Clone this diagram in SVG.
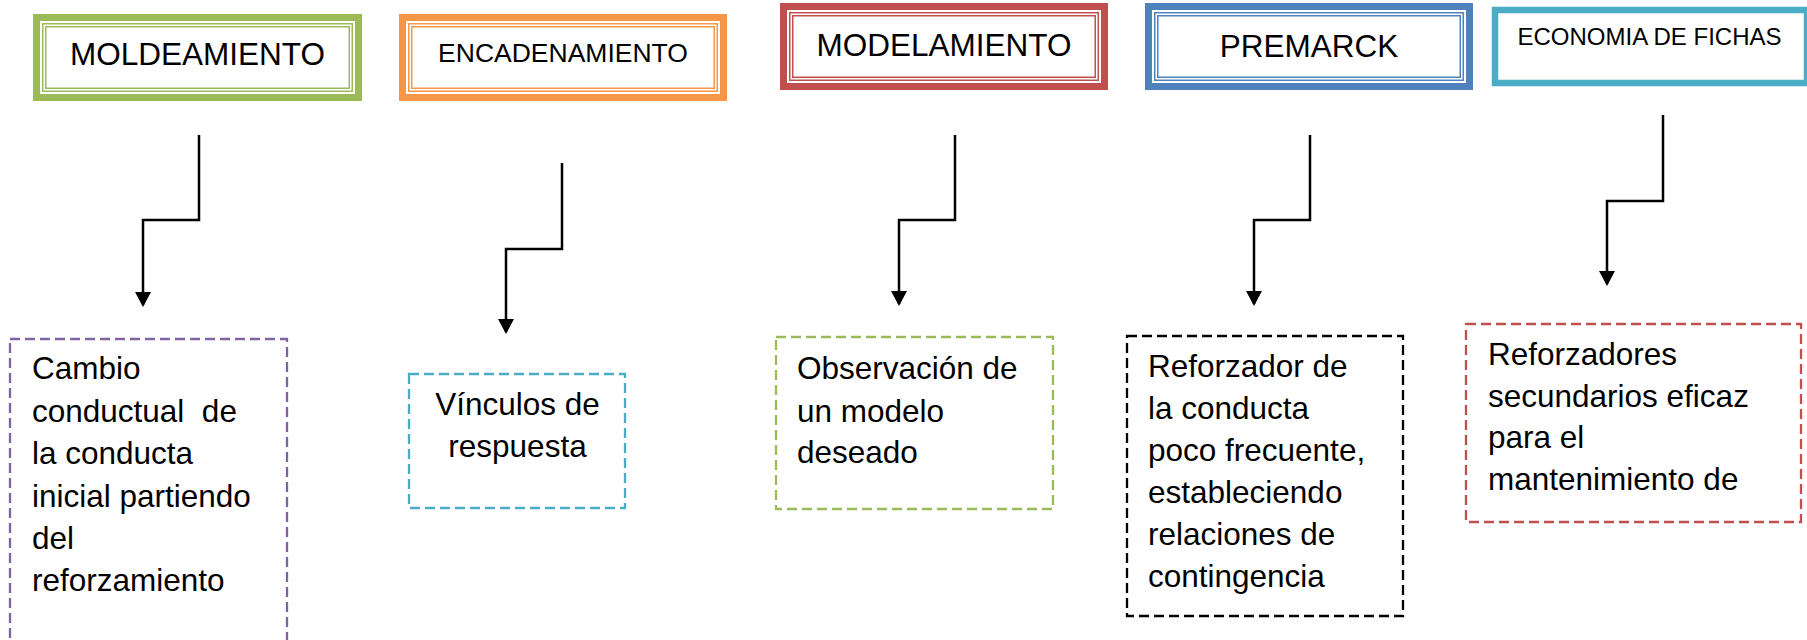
<svg xmlns="http://www.w3.org/2000/svg" width="1807" height="640" viewBox="0 0 1807 640">
<style>
  .bg { fill: #ffffff; }
  .t { font-family: "Liberation Sans", Arial, sans-serif; fill: #000000; }
  .head { font-size: 31.5px; text-anchor: middle; }
  .body { font-size: 31.5px; white-space: pre; }
  .frame { fill: #ffffff; }
  .thin { fill: none; stroke-width: 1.5; }
  .dash { fill: #ffffff; stroke-width: 2.3; stroke-dasharray: 10 5; }
  .conn { fill: none; stroke: #000000; stroke-width: 2.5; marker-end: url(#arr); }
</style>
<defs>
  <marker id="arr" markerUnits="userSpaceOnUse" markerWidth="15" markerHeight="16" viewBox="0 0 15 16" refX="13" refY="8" orient="auto">
    <path d="M0,0 L15,8 L0,16 Z" fill="#000000"/>
  </marker>
</defs>
<rect class="bg" x="0" y="0" width="1807" height="640"/>

<g id="moldeamiento">
  <rect class="frame" x="36.5" y="17.5" width="322" height="80" stroke="#9BBB59" stroke-width="7"/>
  <rect class="thin" x="42.75" y="23.75" width="309.5" height="67.5" stroke="#9BBB59"/>
  <rect class="thin" x="45.75" y="26.75" width="303.5" height="61.5" stroke="#9BBB59"/>
  <text class="t head" x="197.5" y="65">MOLDEAMIENTO</text>
</g>

<g id="encadenamiento">
  <rect class="frame" x="402.5" y="17.5" width="321" height="80" stroke="#F79646" stroke-width="7"/>
  <rect class="thin" x="408.75" y="23.75" width="308.5" height="67.5" stroke="#F79646"/>
  <rect class="thin" x="411.75" y="26.75" width="302.5" height="61.5" stroke="#F79646"/>
  <text class="t" x="563" y="62" style="font-size:26.5px;text-anchor:middle">ENCADENAMIENTO</text>
</g>

<g id="modelamiento">
  <rect class="frame" x="783.5" y="6.5" width="321" height="80" stroke="#C0504D" stroke-width="7"/>
  <rect class="thin" x="789.75" y="12.75" width="308.5" height="67.5" stroke="#C0504D"/>
  <rect class="thin" x="792.75" y="15.75" width="302.5" height="61.5" stroke="#C0504D"/>
  <text class="t head" x="944" y="56">MODELAMIENTO</text>
</g>

<g id="premarck">
  <rect class="frame" x="1148.5" y="6.5" width="321" height="80" stroke="#4F81BD" stroke-width="7"/>
  <rect class="thin" x="1154.75" y="12.75" width="308.5" height="67.5" stroke="#4F81BD"/>
  <rect class="thin" x="1157.75" y="15.75" width="302.5" height="61.5" stroke="#4F81BD"/>
  <text class="t head" x="1309" y="57">PREMARCK</text>
</g>

<g id="economia">
  <rect class="frame" x="1495" y="10" width="312" height="73" stroke="#4BACC6" stroke-width="6.5"/>
  <text class="t" x="1649.5" y="45" style="font-size:24px;text-anchor:middle">ECONOMIA DE FICHAS</text>
</g>

<g id="connectors">
  <path class="conn" d="M199 135 V220 H143 V305"/>
  <path class="conn" d="M562 163 V249 H506 V332"/>
  <path class="conn" d="M955 135 V220 H899 V304"/>
  <path class="conn" d="M1310 135 V220 H1254 V304"/>
  <path class="conn" d="M1663 115 V201 H1607 V284"/>
</g>

<g id="cambio">
  <rect class="dash" x="10" y="339" width="277" height="330" stroke="#8064A2"/>
  <text class="t body" x="32" y="379">Cambio</text>
  <text class="t body" x="32" y="422">conductual  de</text>
  <text class="t body" x="32" y="464">la conducta</text>
  <text class="t body" x="32" y="507">inicial partiendo</text>
  <text class="t body" x="32" y="549">del</text>
  <text class="t body" x="32" y="591">reforzamiento</text>
</g>

<g id="vinculos">
  <rect class="dash" x="409" y="374" width="216" height="134" stroke="#4BACC6"/>
  <text class="t body" x="517.5" y="415" text-anchor="middle">Vínculos de</text>
  <text class="t body" x="517.5" y="457" text-anchor="middle">respuesta</text>
</g>

<g id="observacion">
  <rect class="dash" x="776" y="337" width="277" height="172" stroke="#9BBB59"/>
  <text class="t body" x="797" y="379">Observación de</text>
  <text class="t body" x="797" y="422">un modelo</text>
  <text class="t body" x="797" y="463">deseado</text>
</g>

<g id="reforzador">
  <rect class="dash" x="1127" y="336" width="276" height="280" stroke="#000000"/>
  <text class="t body" x="1148" y="377">Reforzador de</text>
  <text class="t body" x="1148" y="419">la conducta</text>
  <text class="t body" x="1148" y="461">poco frecuente,</text>
  <text class="t body" x="1148" y="503">estableciendo</text>
  <text class="t body" x="1148" y="545">relaciones de</text>
  <text class="t body" x="1148" y="587">contingencia</text>
</g>

<g id="reforzadores">
  <rect class="dash" x="1466" y="324" width="335" height="198" stroke="#C0504D"/>
  <text class="t body" x="1488" y="365">Reforzadores</text>
  <text class="t body" x="1488" y="407">secundarios eficaz</text>
  <text class="t body" x="1488" y="448">para el</text>
  <text class="t body" x="1488" y="490">mantenimiento de</text>
</g>
</svg>
